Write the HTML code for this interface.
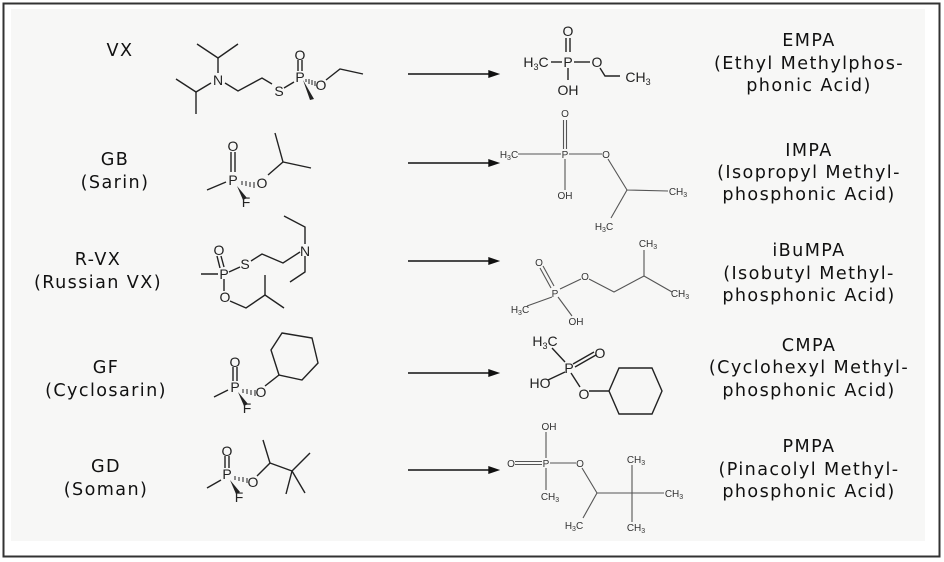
<!DOCTYPE html>
<html><head><meta charset="utf-8"><style>
html,body{margin:0;padding:0;background:#fff;}
svg{display:block}
.l{font-family:"DejaVu Sans","Liberation Sans",sans-serif;font-size:17.6px;fill:#111;text-anchor:middle;letter-spacing:1.4px}
.a{font-family:"Liberation Sans",sans-serif;font-size:14px;fill:#222;text-anchor:middle}
.s{font-family:"Liberation Sans",sans-serif;font-size:10px;fill:#333;text-anchor:middle}
.b{stroke:#222;stroke-width:1.4;fill:none}
.t{stroke:#555;stroke-width:1.1;fill:none}
</style></head><body>
<svg width="944" height="562" viewBox="0 0 944 562">
<rect x="0" y="0" width="944" height="562" fill="#fff"/>
<rect x="3.5" y="3.5" width="936" height="553" fill="#fff" stroke="#333" stroke-width="2"/>
<rect x="11" y="9" width="914" height="532" fill="#f7f7f6"/>

<!-- left labels -->
<text class="l" x="120" y="56">VX</text>
<text class="l" x="115" y="165">GB</text>
<text class="l" x="115" y="188">(Sarin)</text>
<text class="l" x="98" y="265">R-VX</text>
<text class="l" x="98" y="288">(Russian VX)</text>
<text class="l" x="106" y="373">GF</text>
<text class="l" x="106" y="396">(Cyclosarin)</text>
<text class="l" x="106" y="472">GD</text>
<text class="l" x="106" y="495">(Soman)</text>

<!-- right labels -->
<text class="l" x="809" y="46">EMPA</text>
<text class="l" x="809" y="69">(Ethyl Methylphos-</text>
<text class="l" x="809" y="91">phonic Acid)</text>
<text class="l" x="809" y="156">IMPA</text>
<text class="l" x="809" y="178">(Isopropyl Methyl-</text>
<text class="l" x="809" y="200">phosphonic Acid)</text>
<text class="l" x="809" y="256">iBuMPA</text>
<text class="l" x="809" y="279">(Isobutyl Methyl-</text>
<text class="l" x="809" y="301">phosphonic Acid)</text>
<text class="l" x="809" y="351">CMPA</text>
<text class="l" x="809" y="373">(Cyclohexyl Methyl-</text>
<text class="l" x="809" y="396">phosphonic Acid)</text>
<text class="l" x="809" y="452">PMPA</text>
<text class="l" x="809" y="475">(Pinacolyl Methyl-</text>
<text class="l" x="809" y="497">phosphonic Acid)</text>

<!-- arrows -->
<g stroke="#111" stroke-width="1.4" fill="#111">
<line x1="408" y1="74" x2="492" y2="74"/><polygon points="498,74 489,71 489,77"/>
<line x1="408" y1="163" x2="492" y2="163"/><polygon points="498,163 489,160 489,166"/>
<line x1="408" y1="261" x2="492" y2="261"/><polygon points="498,261 489,258 489,264"/>
<line x1="408" y1="373" x2="492" y2="373"/><polygon points="498,373 489,370 489,376"/>
<line x1="408" y1="470" x2="492" y2="470"/><polygon points="498,470 489,467 489,473"/>
</g>

<!-- VX -->
<g class="b">
<polyline points="197,44 218,58 238,44"/><line x1="218" y1="58" x2="218" y2="73"/>
<polyline points="176,79 196,92 211,83"/><line x1="196" y1="92" x2="196" y2="114"/>
<polyline points="225,83 238,91 262,78 272,84"/>
<line x1="284" y1="88" x2="294" y2="82"/>
<line x1="298" y1="60" x2="298" y2="71"/><line x1="302" y1="60" x2="302" y2="71"/>
<polyline points="326,80 340,69 363,74"/>
</g>
<polygon points="303,80 314,99 310,100" fill="#222"/>
<g stroke="#222" stroke-width="1"><line x1="306" y1="79" x2="306" y2="82"/><line x1="309" y1="79" x2="309" y2="84"/><line x1="312" y1="80" x2="312" y2="85"/><line x1="315" y1="81" x2="315" y2="86"/></g>
<text class="a" x="218" y="85">N</text><text class="a" x="279" y="96">S</text>
<text class="a" x="300" y="82">P</text><text class="a" x="300" y="60">O</text><text class="a" x="321" y="90">O</text>

<!-- GB -->
<g class="b">
<line x1="207" y1="190" x2="226" y2="182"/>
<line x1="231" y1="152" x2="231" y2="172"/><line x1="235" y1="152" x2="235" y2="172"/>
<polyline points="268,175 283,162 311,168"/><line x1="283" y1="162" x2="275" y2="133"/>
</g>
<polygon points="237,186 247,198 243,200" fill="#222"/>
<g stroke="#222" stroke-width="1"><line x1="242" y1="181" x2="242" y2="185"/><line x1="246" y1="181" x2="246" y2="186"/><line x1="250" y1="182" x2="250" y2="187"/><line x1="254" y1="182" x2="254" y2="188"/></g>
<text class="a" x="233" y="185">P</text><text class="a" x="233" y="151">O</text><text class="a" x="262" y="188">O</text><text class="a" x="246" y="207">F</text>

<!-- R-VX -->
<g class="b">
<line x1="201" y1="274" x2="218" y2="274"/>
<line x1="217" y1="256" x2="220" y2="268"/><line x1="221" y1="256" x2="224" y2="267"/>
<line x1="229" y1="272" x2="240" y2="267"/>
<polyline points="251,261 262,254 283,263 300,252"/>
<polyline points="305,244 305,227 284,216"/>
<polyline points="305,256 305,272 290,282"/>
<line x1="224" y1="279" x2="224" y2="291"/>
<polyline points="230,301 246,308 265,295 284,308"/><line x1="265" y1="295" x2="265" y2="275"/>
</g>
<text class="a" x="224" y="279">P</text><text class="a" x="219" y="255">O</text><text class="a" x="245" y="269">S</text><text class="a" x="305" y="256">N</text><text class="a" x="225" y="302">O</text>

<!-- GF -->
<g class="b">
<line x1="214" y1="397" x2="228" y2="390"/>
<line x1="233" y1="367" x2="233" y2="381"/><line x1="237" y1="367" x2="237" y2="381"/>
<line x1="265" y1="386" x2="279" y2="375"/>
<polygon points="282,333 312,338 318,363 302,380 279,375 271,350"/>
</g>
<polygon points="238,392 248,404 244,406" fill="#222"/>
<g stroke="#222" stroke-width="1"><line x1="243" y1="389" x2="243" y2="393"/><line x1="247" y1="389" x2="247" y2="394"/><line x1="251" y1="390" x2="251" y2="395"/><line x1="255" y1="390" x2="255" y2="396"/></g>
<text class="a" x="235" y="392">P</text><text class="a" x="235" y="367">O</text><text class="a" x="261" y="397">O</text><text class="a" x="247" y="413">F</text>

<!-- GD -->
<g class="b">
<line x1="207" y1="488" x2="221" y2="480"/>
<line x1="225" y1="456" x2="225" y2="468"/><line x1="229" y1="456" x2="229" y2="468"/>
<polyline points="257,476 270,463 263,440"/><line x1="270" y1="463" x2="292" y2="471"/>
<line x1="292" y1="471" x2="310" y2="453"/><line x1="292" y1="471" x2="305" y2="493"/><line x1="292" y1="471" x2="286" y2="494"/>
</g>
<polygon points="230,480 240,492 236,494" fill="#222"/>
<g stroke="#222" stroke-width="1"><line x1="235" y1="476" x2="235" y2="480"/><line x1="239" y1="477" x2="239" y2="481"/><line x1="243" y1="477" x2="243" y2="482"/><line x1="247" y1="478" x2="247" y2="483"/></g>
<text class="a" x="227" y="479">P</text><text class="a" x="227" y="456">O</text><text class="a" x="253" y="487">O</text><text class="a" x="239" y="502">F</text>

<!-- EMPA -->
<g class="b">
<line x1="551" y1="62" x2="562" y2="62"/><line x1="574" y1="62" x2="590" y2="62"/>
<line x1="566" y1="38" x2="566" y2="52"/><line x1="570" y1="38" x2="570" y2="52"/>
<line x1="568" y1="68" x2="568" y2="80"/>
<polyline points="600,68 605,76 620,76"/>
</g>
<text class="a" x="536" y="67">H<tspan font-size="9" dy="3">3</tspan><tspan dy="-3">C</tspan></text>
<text class="a" x="568" y="67">P</text><text class="a" x="568" y="36">O</text><text class="a" x="597" y="67">O</text>
<text class="a" x="568" y="95">OH</text>
<text class="a" x="638" y="82">CH<tspan font-size="9" dy="3">3</tspan></text>

<!-- IMPA -->
<g class="t">
<line x1="518" y1="154" x2="561" y2="154"/><line x1="569" y1="154" x2="602" y2="154"/>
<line x1="563.5" y1="120" x2="563.5" y2="149"/><line x1="566.5" y1="120" x2="566.5" y2="149"/>
<line x1="565" y1="159" x2="565" y2="190"/>
<polyline points="608,159 627,190 668,191"/><line x1="627" y1="190" x2="611" y2="218"/>
</g>
<text class="s" x="509" y="158">H<tspan font-size="7" dy="2">3</tspan><tspan dy="-2">C</tspan></text>
<text class="s" x="565" y="158">P</text><text class="s" x="565" y="117">O</text><text class="s" x="606" y="158">O</text>
<text class="s" x="565" y="199">OH</text><text class="s" x="678" y="195">CH<tspan font-size="7" dy="2">3</tspan></text>
<text class="s" x="604" y="230">H<tspan font-size="7" dy="2">3</tspan><tspan dy="-2">C</tspan></text>

<!-- iBuMPA -->
<g class="t">
<line x1="540" y1="268" x2="551" y2="288"/><line x1="543" y1="266" x2="554" y2="286"/>
<line x1="552" y1="297" x2="527" y2="306"/><line x1="558" y1="297" x2="572" y2="316"/>
<line x1="560" y1="289" x2="581" y2="279"/>
<polyline points="589,279 614,292 644,276 644,250"/><line x1="644" y1="276" x2="672" y2="292"/>
</g>
<text class="s" x="539" y="266">O</text><text class="s" x="555" y="297">P</text><text class="s" x="585" y="280">O</text>
<text class="s" x="520" y="313">H<tspan font-size="7" dy="2">3</tspan><tspan dy="-2">C</tspan></text>
<text class="s" x="576" y="325">OH</text><text class="s" x="648" y="247">CH<tspan font-size="7" dy="2">3</tspan></text>
<text class="s" x="680" y="297">CH<tspan font-size="7" dy="2">3</tspan></text>

<!-- CMPA -->
<g class="b" stroke-width="1.2">
<line x1="552" y1="348" x2="565" y2="362"/>
<line x1="573" y1="364" x2="594" y2="352"/><line x1="575" y1="367" x2="596" y2="355"/>
<line x1="565" y1="372" x2="548" y2="380"/><line x1="571" y1="373" x2="580" y2="387"/>
<line x1="589" y1="391" x2="609" y2="391"/>
<polygon points="609,391 619,368 652,368 662,391 652,414 619,414"/>
</g>
<text class="a" x="545" y="346" font-size="13">H<tspan font-size="9" dy="3">3</tspan><tspan dy="-3">C</tspan></text>
<text class="a" x="569" y="373" font-size="13">P</text><text class="a" x="600" y="358" font-size="13">O</text>
<text class="a" x="540" y="388" font-size="13">HO</text><text class="a" x="584" y="399" font-size="13">O</text>

<!-- PMPA -->
<g class="t">
<line x1="515" y1="461.5" x2="542" y2="461.5"/><line x1="515" y1="464.5" x2="542" y2="464.5"/>
<line x1="550" y1="463" x2="576" y2="463"/>
<line x1="546" y1="432" x2="546" y2="458"/><line x1="546" y1="468" x2="546" y2="490"/>
<polyline points="582,468 597,493 632,493 664,493"/><line x1="597" y1="493" x2="583" y2="518"/>
<line x1="632" y1="465" x2="632" y2="522"/>
</g>
<text class="s" x="549" y="430">OH</text><text class="s" x="546" y="467">P</text>
<text class="s" x="511" y="467">O</text><text class="s" x="580" y="467">O</text>
<text class="s" x="550" y="500">CH<tspan font-size="7" dy="2">3</tspan></text>
<text class="s" x="636" y="463">CH<tspan font-size="7" dy="2">3</tspan></text>
<text class="s" x="674" y="497">CH<tspan font-size="7" dy="2">3</tspan></text>
<text class="s" x="636" y="531">CH<tspan font-size="7" dy="2">3</tspan></text>
<text class="s" x="574" y="529">H<tspan font-size="7" dy="2">3</tspan><tspan dy="-2">C</tspan></text>
</svg>
</body></html>
